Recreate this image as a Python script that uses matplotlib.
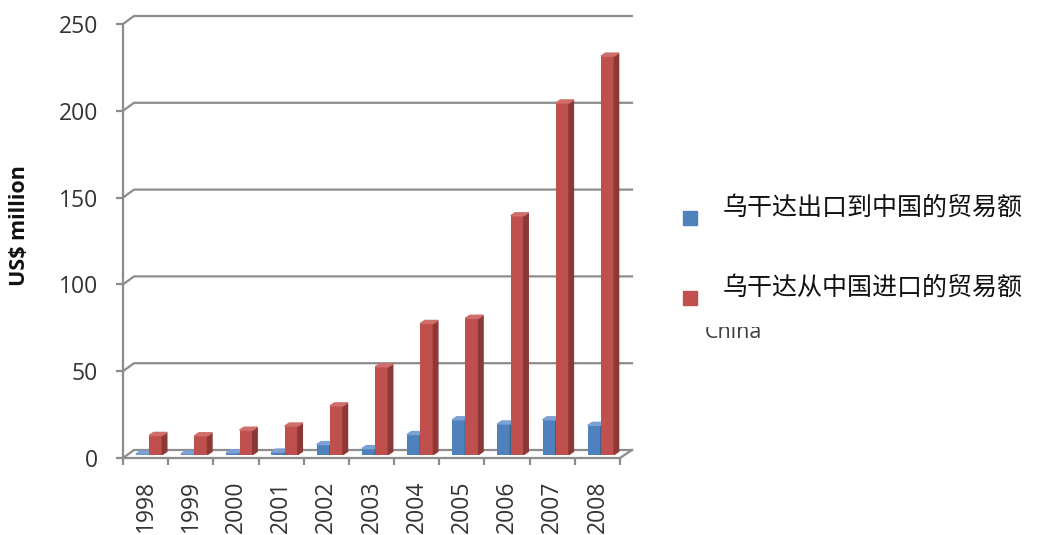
import numpy as np
import matplotlib
matplotlib.use('Agg')
import matplotlib.pyplot as plt
from matplotlib.patches import Polygon, Rectangle
from matplotlib.transforms import Bbox, TransformedBbox


# datos (millones de US$)
years = ['1998', '1999', '2000', '2001', '2002', '2003',
         '2004', '2005', '2006', '2007', '2008']
exports = [0.3, 0.4, 1.0, 1.4, 5.7, 3.4, 11.5, 20.0, 17.6, 20.0, 16.8]
imports = [11.0, 10.8, 14.0, 16.4, 28.0, 50.5, 75.5, 78.5, 137.5, 202.5, 229.5]
labels = ['乌干达出口到中国的贸易额', '乌干达从中国进口的贸易额']
y_ticks = [0, 50, 100, 150, 200, 250]

W, H = 1042, 535
plt.rcParams['font.family'] = ['Open Sans', 'Noto Sans CJK SC', 'DejaVu Sans']

fig = plt.figure(figsize=(W / 100, H / 100), dpi=100)
ax = fig.add_axes([123 / W, 1 - 458 / H, 497 / W, 434 / H])
ax.set_xlim(-0.5, len(years) - 0.5)
ax.set_ylim(0, 250)


def dx(p):
    """ pixeles -> unidades de categoría """
    return p * len(years) / 497


def dy(p):
    """ pixeles -> unidades de valor """
    return p * 250 / 434


grid_c = '#8C8C8C'
xs = np.arange(len(years))
x0, x1 = -0.5, len(years) - 0.5

# pared del fondo: líneas de grilla desplazadas (efecto 3D)
for v in y_ticks:
    ax.plot([x0, x0 + dx(11), x1 + dx(12)], [v, v + dy(8), v + dy(8)],
            color=grid_c, lw=1.6, clip_on=False, zorder=1)
# piso
ax.plot([x1, x1 + dx(12)], [0, dy(8)], color=grid_c, lw=1.6,
        clip_on=False, zorder=1)

# barras con caras frontal, lateral y superior (a media profundidad)
bw = 0.29
base = dy(3.5)
ddx, ddy = dx(4.5), dy(3)
series = [(exports, -0.07, '#4F81BD', '#3B5F8E', '#7CA2D4'),
          (imports, 0.225, '#C0504D', '#8B3836', '#D06E6B')]
for vals, off, c_front, c_side, c_top in series:
    bars = ax.bar(xs + off, vals, width=bw, bottom=base, color=c_front,
                  zorder=3, clip_on=False)
    for b in bars:
        l, r = b.get_x(), b.get_x() + b.get_width()
        y0 = b.get_y()
        t = y0 + b.get_height()
        ax.add_patch(Polygon([(r, y0), (r + ddx, y0 + ddy), (r + ddx, t + ddy), (r, t)],
                             closed=True, color=c_side, zorder=3, clip_on=False))
        ax.add_patch(Polygon([(l, t), (r, t), (r + ddx, t + ddy), (l + ddx, t + ddy)],
                             closed=True, color=c_top, zorder=3, clip_on=False))

# ejes
for s in ['top', 'right']:
    ax.spines[s].set_visible(False)
for s in ['left', 'bottom']:
    ax.spines[s].set_color(grid_c)
    ax.spines[s].set_linewidth(1.6)

ax.set_yticks(y_ticks)
ax.set_yticklabels([str(v) for v in y_ticks])
ax.tick_params(axis='y', length=5, width=1.6, color=grid_c, pad=13,
               labelsize=16.5, labelcolor='#333333')
ax.set_xticks(xs)
ax.set_xticklabels(years, rotation=90, va='top', ha='center')
ax.tick_params(axis='x', length=0, pad=16, labelsize=16.5,
               labelcolor='#333333')
ax.set_xticks(np.arange(len(years) + 1) - 0.5, minor=True)
ax.tick_params(axis='x', which='minor', length=5, width=1.6, color=grid_c)

fig.text(20 / W, 1 - 226 / H, 'US$ million', rotation=90, fontsize=15.5,
         fontweight='bold', ha='center', va='center', color='#111111')

# leyenda dibujada a mano
for i, (lab, col) in enumerate(zip(labels, ['#4F81BD', '#C0504D'])):
    yc = 218 + 80 * i
    fig.patches.append(Rectangle((683 / W, 1 - (yc + 7) / H), 14 / W, 14 / H,
                                 transform=fig.transFigure, color=col))
    fig.text(723 / W, 1 - (yc - 10) / H, lab, fontsize=18, va='center',
             ha='left', color='#111111',
             family=['Noto Sans CJK SC', 'DejaVu Sans'])

# texto "China" recortado por la leyenda
t = fig.text(705 / W, 1 - 338 / H, 'China', fontsize=15.5, color='#404040',
             ha='left', va='baseline')
t.set_clip_box(TransformedBbox(Bbox([[690 / W, 0], [800 / W, 1 - 327 / H]]),
                               fig.transFigure))
t.set_clip_on(True)

fig.savefig('out.png', dpi=100)
